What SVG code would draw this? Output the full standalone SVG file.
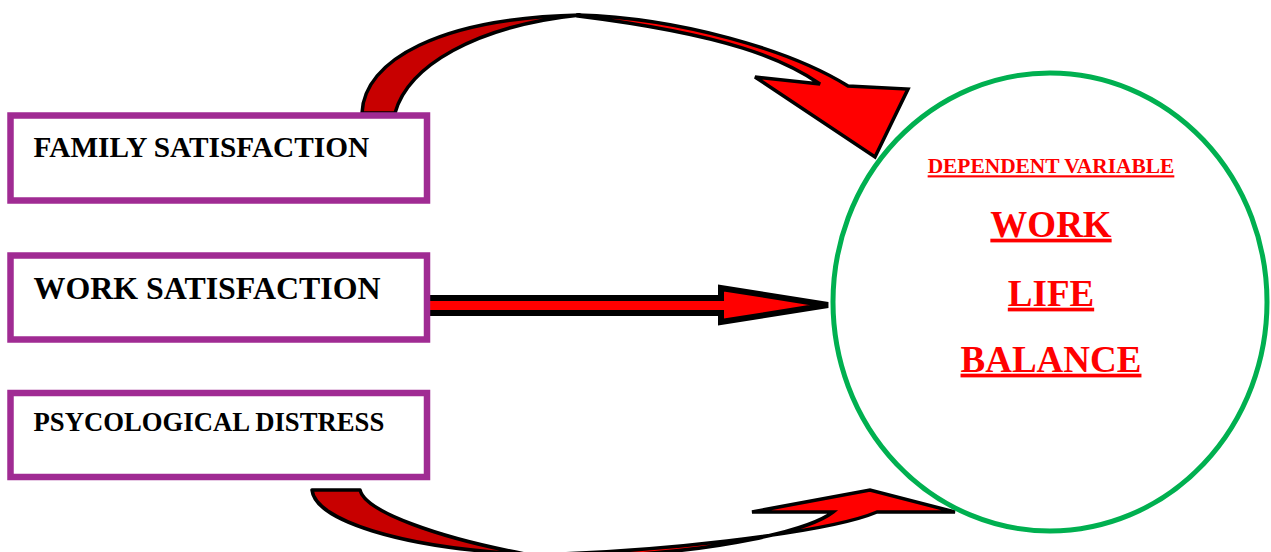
<svg xmlns="http://www.w3.org/2000/svg" width="1271" height="552" viewBox="0 0 1271 552">
  <style>
    .box { fill: #ffffff; stroke: #A02B93; stroke-width: 6.5; }
    .lbl { font-family: "Liberation Serif", "Times New Roman", serif; font-weight: bold; fill: #000000; }
    .dv { font-family: "Liberation Serif", "Times New Roman", serif; font-weight: bold; fill: #FF0000; text-anchor: middle; text-decoration: underline; }
    .back { fill: #C80000; stroke: #000000; stroke-width: 3.5; stroke-linejoin: round; }
    .front { fill: #FF0000; stroke: #000000; stroke-width: 3.5; stroke-linejoin: miter; }
  </style>
  <rect width="1271" height="552" fill="#ffffff"/>

  <g id="connectors">
    <!-- top curved arrow: family satisfaction -> WLB -->
    <path class="back" d="M 362,113 C 364,60 440,18 580,15 C 475,26 408,66 395,113 Z"/>
    <path class="front" d="M 578,15 C 680,18 790,50 848,86 L 908,89 L 875,157 L 755,77 L 820,84 C 785,60 730,35 578,16 Z"/>
    <!-- middle straight arrow: work satisfaction -> WLB -->
    <path class="front" style="stroke-width:6" d="M 427,298 L 721,298 L 721,288 L 828,305 L 721,322 L 721,313 L 427,313 Z"/>
    <!-- bottom curved arrow: psychological distress -> WLB -->
    <path class="back" d="M 312,490 L 360,490 C 365,512 440,538 525,554 C 400,548 315,520 312,490 Z"/>
    <path class="front" d="M 500,555 C 650,555 830,532 877,512 L 955,512 L 870,490 L 752,512 L 833,512 C 810,530 720,552 600,556 Z"/>
  </g>

  <g id="family-satisfaction">
    <rect class="box" x="10.5" y="115.5" width="416.5" height="85"/>
    <text class="lbl" x="33.5" y="156.5" font-size="29.3">FAMILY SATISFACTION</text>
  </g>

  <g id="work-satisfaction">
    <rect class="box" x="10.5" y="255.5" width="416.5" height="84"/>
    <text class="lbl" x="33.5" y="298.5" font-size="31.9">WORK SATISFACTION</text>
  </g>

  <g id="psychological-distress">
    <rect class="box" x="10.5" y="393" width="416.5" height="84"/>
    <text class="lbl" x="33.5" y="431" font-size="26.7">PSYCOLOGICAL DISTRESS</text>
  </g>

  <g id="work-life-balance">
    <ellipse cx="1050" cy="302" rx="217" ry="229" fill="none" stroke="#00B050" stroke-width="5"/>
    <text class="dv" x="1051" y="173.3" font-size="21.4">DEPENDENT VARIABLE</text>
    <text class="dv" x="1051" y="236.7" font-size="37">WORK</text>
    <text class="dv" x="1051" y="305.7" font-size="37">LIFE</text>
    <text class="dv" x="1051" y="371.7" font-size="37">BALANCE</text>
  </g>
</svg>
